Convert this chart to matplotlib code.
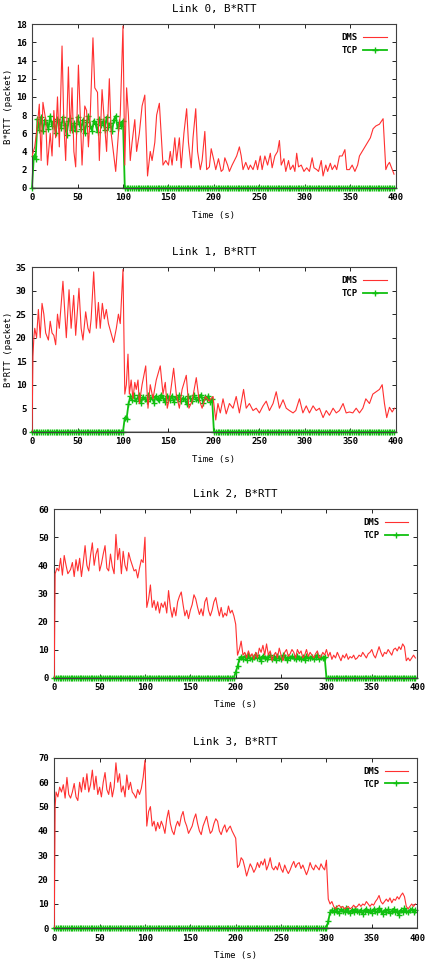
import numpy as np
import matplotlib
matplotlib.use('Agg')
import matplotlib.pyplot as plt

# DMS samples (time s, B*RTT packets)
dms0 = [(0,3.5),(3,4.5),(6,7),(8,9.2),(10,3),(12,9.4),(15,7.5),(17,2.5),(20,6),(22,3.5),(24,8.5),(26,5.5),
        (28,10),(30,4.5),(33,15.6),(35,7),(37,3),(40,13.3),(42,6),(44,11),(46,4),(48,2.3),(51,13.5),(53,8),
        (55,2.5),(58,9),(60,8.5),(62,4.5),(64,8),(67,16.5),(69,11),(72,10.5),(74,3),(77,10.8),(79,8),(82,4),
        (85,12),(87,6),(90,3.5),(92,1.8),(95,6),(97,8),(100,17.8),(102,2.5),(104,11),(106,8),(108,3),(110,5),
        (113,7.5),(115,4),(118,6),(121,9),(124,10.2),(127,1.3),(130,4),(132,3),(135,5),(137,8),(140,9.3),
        (142,6),(144,2.5),(147,3),(150,2.5),(152,4),(154,2.5),(157,5.5),(159,3),(162,5.5),(164,2.2),(167,6),
        (170,8.7),(172,5),(175,2.2),(177,5.5),(180,8.7),(182,4),(185,2),(187,3),(190,6.2),(192,2),(195,2.3),
        (197,4.3),(200,3),(202,2),(205,3.2),(208,1.8),(210,2),(212,3.3),(215,2.5),(217,1.8),(220,2.5),(225,3.5),
        (228,4.5),(230,3.5),(232,2),(235,2.8),(238,2),(240,2.5),(243,2),(246,3),(248,2),(251,3.5),(253,2),
        (256,3.5),(259,2.5),(262,3.8),(264,2.2),(267,3.5),(270,4),(272,5.2),(274,2.5),(277,3.2),(279,1.8),
        (282,3),(284,2),(287,2.5),(289,1.8),(291,3.8),(293,2.3),(296,2.5),(299,1.8),(302,2.2),(305,1.8),
        (308,3.3),(310,2.2),(313,2),(315,1.8),(318,3),(320,1.3),(323,2.5),(325,1.8),(328,2.7),(330,2),(333,2.5),
        (335,2),(338,3.5),(341,3.5),(344,4.2),(346,2),(349,2),(352,2.5),(355,1.8),(358,2.5),(360,3.5),(363,4),
        (366,4.5),(369,5),(372,5.5),(375,6.5),(378,6.8),(382,7),(386,7.6),(389,2),(391,2.5),(393,2.8),(396,2),
        (398,1.5)]

dms1 = [(0,0),(1,16),(2,20),(3,22),(5,20),(7,26),(9,20),(11,27.3),(13,25),(15,21),(18,19.5),(20,23.5),(22,21),
        (24,20.5),(26,18.5),(28,25),(30,22),(32,27),(34,32),(37.7,20),(40.7,30.2),(43,22),(45.8,29),(48,20.5),
        (51.6,30.5),(54,22),(56,19.5),(59,25.5),(61.5,22),(63.4,21),(65,24),(67.8,34),(70.7,22),(73,27.5),
        (75,22),(77.3,27.3),(79.5,24),(81.7,26),(84,23),(86.8,21),(89.7,19),(92.7,22),(95,25),(97,23),
        (100,34.5),(102,8),(103.7,10),(105.5,16.5),(107,8),(109,11),(111,7),(113,10.5),(114.6,9),(116.5,11),
        (118,6),(121,10),(125,14),(127.5,5),(130,10),(133,7),(136.6,11),(141,14),(144,8),(146.5,10.5),
        (148.7,5),(152,8),(155.7,13.5),(158.6,8),(162,5),(165,9),(169.6,12),(172.5,5),(176,6.5),(180.6,11.5),
        (183.5,7),(187,5),(190.8,7.5),(194.5,6.5),(199,7.5),(202,2.5),(204.4,6),(207,4),(210,7),(213.5,3.8),
        (217,6),(221,5),(224.5,7.5),(228,4),(232.6,9),(235.5,5),(239,6),(243,4.5),(246.5,5),(250,4),(254,5.5),
        (257.5,6.5),(261,4.5),(265,6),(268.5,8.5),(272,5),(276,6.8),(279.5,5),(283,4.5),(287,4),(290,4.5),
        (294,7),(297.8,4),(301.5,5.5),(305,4),(309,5.5),(312.5,4.5),(316,5),(320,3),(323.5,4.5),(327,3.5),
        (331,5),(334.5,4),(338,4.5),(342,6),(345.4,4),(349,4.2),(352.7,4),(356.4,5),(360,4),(363.7,5),(367,7),
        (371,6),(374.7,8),(378.4,8.5),(382,9),(385,10),(387.5,6),(390,3),(393,5.2),(396,4.2),(398.5,5)]

dms2 = [(0,0),(1,37),(3,39),(5,38),(7,42.5),(9,36.5),(11,43.5),(13,40),(15,37),(18,38.5),(20,41),(22,36),
        (24,42),(26,38),(28,42.5),(30,36),(32,41),(34,47),(36,40),(38,38),(40,43.5),(42,48),(44,40),(46,44),
        (48,46),(50,38),(52,40.5),(54,44),(56,47),(58,39),(60,38),(62,44),(64,39.5),(66,37),(68,51),(70,42),
        (72,46),(74,37),(76,45),(78,40),(80,38),(82,44.5),(84,42),(86,40),(88,38),(90,38.5),(92,35.5),(94,39),
        (96,42),(98,41),(100,50),(102,25),(104,28),(106,33),(108,25),(110,27.5),(112,24),(114,27),(116,23),
        (118,26.5),(120,25),(122,27),(124,23),(126,31),(128,25),(130,21.5),(132,25),(134,22),(136,27),(138,29),
        (140,30.5),(142,26),(144,22),(146,24),(148,21),(150,24),(152,26),(154,29.5),(156,28),(158,25),
        (160,22.5),(162,24.5),(164,22),(166,27),(168,28.5),(170,24),(172,22),(174,24),(176,27),(178,28.5),
        (180,25),(182,22),(184,25),(186,21.5),(188,23),(190,22),(192,25.5),(194,23),(196,24),(198,22),(200,19),
        (202,8),(204,10),(206,13),(208,8),(210,9),(212,7),(214,9.5),(216,7.5),(218,8.5),(220,6.5),(222,9),
        (224,7),(226,10.5),(228,9),(230,11.5),(232,8),(234,12),(236,8),(238,9.5),(240,6),(242,8),(244,9),
        (246,7),(248,10.5),(250,8),(252,6),(254,9),(256,10),(258,7.5),(260,8.5),(262,10),(264,9),(266,7),
        (268,10),(270,8.5),(272,9.5),(274,7),(276,8),(278,10),(280,7.5),(282,9),(284,8),(286,7),(288,8.5),
        (290,9.5),(292,7),(294,7.5),(296,9),(298,8),(300,10),(302,7.5),(304,9),(306,6.5),(308,8),(310,7),
        (312,9),(314,7.5),(316,6),(318,8),(320,7),(322,8.5),(324,6.5),(326,7.5),(328,7),(330,8),(332,6.5),
        (334,7),(336,8),(338,7.5),(340,9),(342,8),(344,7),(346,8.5),(348,9),(350,10),(352,8),(354,7),(356,9),
        (358,11),(360,9),(362,7.5),(364,9),(366,8.5),(368,10),(370,9),(372,8),(374,10),(376,10.5),(378,9.5),
        (380,11),(382,10),(384,12),(386,11),(388,6),(390,7),(392,6),(394,7),(396,8),(398,7)]

dms3 = [(0,0),(1,50),(2,56),(4,54),(6,58),(8,56),(10,59),(12,53.5),(14,62),(16,55),(18,53.5),(20,56),
        (22,59.5),(24,54),(26,52.5),(28,60),(30,56),(32,62),(34,57),(36,63.5),(38,56),(40,59),(42,65),(44,57),
        (46,62.5),(48,55),(50,58),(52,54),(54,60),(56,64),(58,57),(60,55),(62,60),(64,54),(66,58),(68,68),
        (70,60),(72,63.5),(74,56),(76,58.5),(78,54),(80,63),(82,57),(84,60),(86,56),(88,55),(90,53.5),(92,57),
        (94,55),(96,57.5),(98,62),(100,69),(102,42),(104,48),(106,50),(108,42),(110,44),(112,40),(114,43.5),
        (116,41),(118,44),(120,42),(122,39),(124,45),(126,48.5),(128,43),(130,40),(132,38.5),(134,42),(136,44),
        (138,42),(140,46),(142,48),(144,44),(146,42),(148,39),(150,40.5),(152,42),(154,45),(156,47),(158,43),
        (160,40),(162,38.5),(164,42),(166,44),(168,46),(170,42),(172,39),(174,40),(176,43),(178,45),(180,44),
        (182,40),(184,38.5),(186,41),(188,42.5),(190,39.5),(192,41),(194,42),(196,40),(198,38.5),(200,37),
        (202,25),(204,26),(206,29),(208,28),(210,25),(212,21.5),(214,24),(216,26.5),(218,25),(220,23),
        (222,24.5),(224,27),(226,25),(228,27.5),(230,26),(232,28.5),(234,24),(236,26),(238,29),(240,25),
        (242,24),(244,25.5),(246,24),(248,27),(250,24.5),(252,23),(254,26),(256,24),(258,22.5),(260,24),
        (262,26),(264,27.5),(266,25),(268,26.5),(270,27),(272,24.5),(274,26),(276,24),(278,22),(280,24),
        (282,27),(284,25),(286,24),(288,26),(290,25),(292,24),(294,26.5),(296,25),(298,24),(300,28),(302,12),
        (304,10),(306,11),(308,9),(310,8),(312,9),(314,9.5),(316,8.5),(318,9),(320,8),(322,8.5),(324,9),
        (326,8),(328,8.5),(330,9.5),(332,8.5),(334,9),(336,10),(338,9),(340,10),(342,9.5),(344,11),(346,10),
        (348,9),(350,10),(352,9.5),(354,11),(356,12),(358,13.5),(360,11),(362,10),(364,11),(366,12),(368,11),
        (370,12.5),(372,10.5),(374,12),(376,11.5),(378,13),(380,12),(382,13.5),(384,14.5),(386,13),(388,9),
        (390,8),(392,9),(394,10),(396,9),(398,10)]

# TCP samples every 2 s (zero while the flow is off)
tcp0 = [0, 3.5, 3.2, 7.6, 6.4, 7.8, 6.2, 7.5, 7.0, 6.5, 7.9, 6.8, 7.4, 6.0, 7.6, 7.2, 6.6, 7.8, 6.9, 5.8,
        7.3, 7.7, 6.4, 7.1, 6.2, 7.8, 7.0, 6.5, 7.5, 6.0, 7.2, 7.9, 6.8, 6.3, 7.4, 7.0, 6.1, 7.6, 6.9, 7.3,
        6.4, 7.8, 6.7, 7.1, 6.2, 7.5, 7.9, 6.6, 7.2, 6.8, 7.4] + [0] * 149
tcp1 = [0] * 51 + [3, 2.8, 5.8, 7.5, 6.8, 7.8, 6.5, 7.2, 7.9, 6.2, 7.4, 7.0, 6.6, 7.8, 6.9, 7.3, 6.1, 7.6,
        7.0, 6.7, 7.9, 7.2, 6.4, 7.5, 7.1, 6.8, 7.7, 6.3, 7.4, 7.0, 7.8, 6.6, 7.2, 6.9, 5.8, 7.5, 7.1, 6.5,
        7.8, 7.0, 6.7, 7.4, 7.9, 6.2, 7.3, 6.9, 7.6, 6.4, 7.0] + [0] * 100
tcp2 = [0] * 100 + [2, 4, 6.5, 7.5, 6.8, 7.6, 6.2, 7.9, 7.0, 6.5, 7.4, 8.2, 6.9, 7.2, 6.0, 7.8, 7.1, 6.6,
        7.5, 8.0, 6.8, 7.3, 6.4, 7.7, 7.0, 6.7, 7.9, 7.2, 6.3, 7.5, 6.9, 7.6, 7.1, 6.5, 7.8, 7.0, 6.8, 7.4,
        6.2, 7.7, 7.1, 6.9, 7.5, 6.6, 7.3, 7.9, 6.7, 7.2, 7.0, 7.4] + [0] * 50
tcp3 = [0] * 151 + [3, 6.5, 7.5, 6.8, 8.2, 7.0, 6.4, 7.8, 7.3, 6.6, 8.4, 7.1, 6.2, 7.6, 6.9, 8.0, 7.3, 6.5,
        7.7, 5.8, 7.2, 8.1, 6.7, 7.4, 6.3, 7.9, 7.0, 6.6, 8.3, 7.2, 5.9, 7.5, 6.9, 7.8, 6.4, 7.1, 8.0, 6.6,
        7.3, 5.5, 7.6, 6.8, 8.2, 7.0, 6.5, 7.4, 7.9, 6.8, 7.5]

panels = [
    (dms0, tcp0, 'Link 0, B*RTT', 18, 2, True),
    (dms1, tcp1, 'Link 1, B*RTT', 35, 5, True),
    (dms2, tcp2, 'Link 2, B*RTT', 60, 10, False),
    (dms3, tcp3, 'Link 3, B*RTT', 70, 10, False),
]
# axes boxes in figure fractions [left, bottom, width, height]
boxes = [
    [0.075, 0.806, 0.852, 0.169],
    [0.075, 0.554, 0.852, 0.170],
    [0.127, 0.300, 0.850, 0.174],
    [0.127, 0.041, 0.850, 0.176],
]

plt.rcParams['font.family'] = 'DejaVu Sans Mono'
plt.rcParams['font.weight'] = 'bold'
plt.rcParams['font.size'] = 6.5

fig = plt.figure(figsize=(4.27, 9.68), dpi=100)

for (dms, tcp, title, ymax, ystep, ylab), box in zip(panels, boxes):
    ax = fig.add_axes(box)
    d = np.array(dms)
    tt = np.arange(len(tcp)) * 2
    ax.axhline(0, color='#a0a0a0', lw=1.2, zorder=1)
    ax.plot(d[:, 0], d[:, 1], color='#ff3030', lw=0.8, label='DMS', zorder=3)
    ax.plot(tt, tcp, color='#10c010', lw=1.3, marker='+', ms=5, mew=1.0, label='TCP',
            zorder=2, clip_on=False)
    ax.set_xlim(0, 400)
    ax.set_ylim(0, ymax)
    ax.set_xticks(np.arange(0, 401, 50))
    ax.set_yticks(np.arange(0, ymax + 1, ystep))
    ax.tick_params(direction='in', top=True, right=True, length=3, width=0.6, pad=4)
    for s in ax.spines.values():
        s.set_linewidth(0.8)
        s.set_color('#404040')
    ax.set_title(title, pad=9)
    ax.set_xlabel('Time (s)', labelpad=6)
    if ylab:
        ax.set_ylabel('B*RTT (packet)', labelpad=2)
    ax.legend(loc='upper right', frameon=False, markerfirst=False, handlelength=2.6,
              handletextpad=0.6, labelspacing=0.4, borderaxespad=0.6)

plt.savefig('out.png', dpi=100)
